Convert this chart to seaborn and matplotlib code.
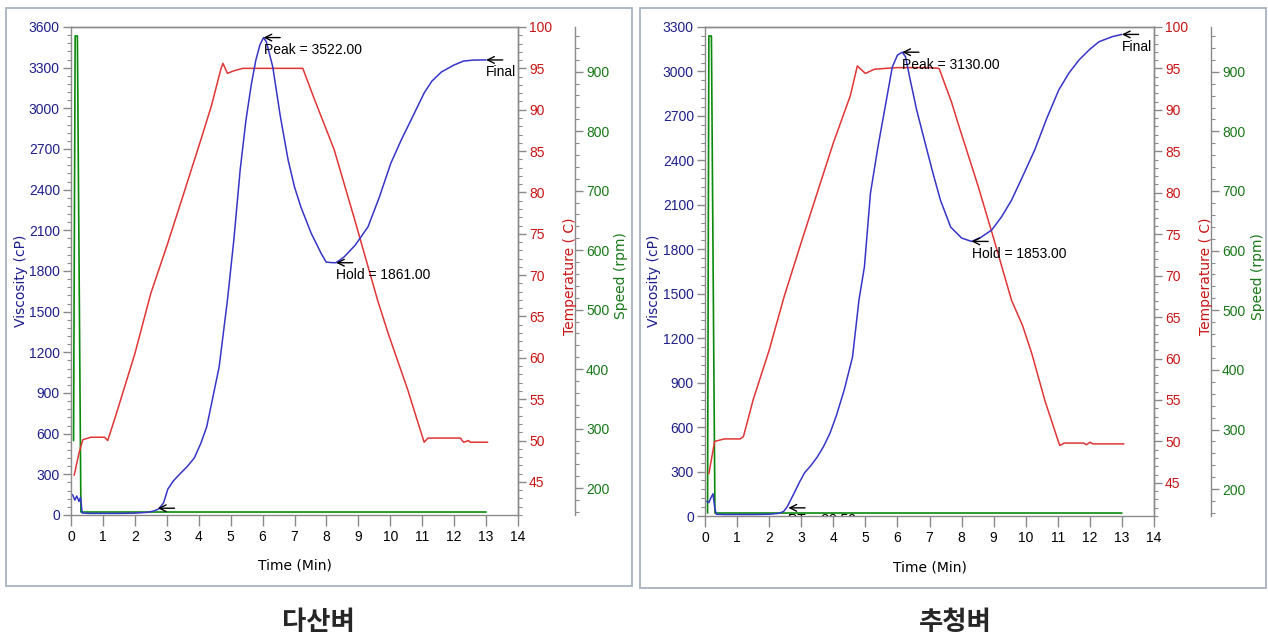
import matplotlib
matplotlib.use('Agg')
import matplotlib.pyplot as plt
import matplotlib.patches as patches
from matplotlib.ticker import MultipleLocator
import seaborn as sns

# 다산벼 (left panel)
visc_t_a = [0.05, 0.12, 0.18, 0.25, 0.30, 0.35, 0.6, 1.0, 1.5, 2.0, 2.4, 2.6, 2.75, 2.9,
            3.03, 3.2, 3.44, 3.65, 3.86, 4.07, 4.25, 4.38, 4.64, 4.9, 5.1, 5.3, 5.48, 5.65,
            5.79, 5.92, 6.03, 6.12, 6.32, 6.55, 6.8, 7.0, 7.2, 7.52, 7.83, 7.99, 8.15, 8.3,
            8.55, 8.9, 9.3, 9.65, 10.02, 10.35, 10.65, 11.06, 11.3, 11.6, 12.0, 12.3, 12.6, 13.0]
visc_a = [150, 110, 140, 100, 130, 15, 12, 12, 12, 14, 20, 30, 45, 90,
          190, 250, 310, 360, 420, 531, 650, 797, 1093, 1586, 2029, 2550, 2914, 3180,
          3357, 3470, 3522, 3490, 3305, 2950, 2619, 2420, 2272, 2080, 1932, 1866, 1862, 1861,
          1903, 1990, 2125, 2340, 2597, 2770, 2914, 3113, 3200, 3268, 3320, 3349, 3356, 3357]
temp_t_a = [0.1, 0.25, 0.37, 0.62, 1.05, 1.15, 1.4, 2.0, 2.5, 3.0, 3.5, 4.07, 4.4, 4.7,
            4.76, 4.9, 5.1, 5.38, 6.0, 7.0, 7.26, 7.6, 8.24, 8.9, 9.6, 9.93, 10.55, 10.8,
            11.06, 11.18, 12.2, 12.25, 12.3, 12.45, 12.5, 12.6, 13.05]
temp_a = [45.8, 48.5, 50.1, 50.4, 50.4, 50.0, 53.0, 60.5, 67.8, 73.5, 79.5, 86.4, 90.5, 95.0,
          95.6, 94.4, 94.7, 95.0, 95.0, 95.0, 95.0, 91.5, 85.2, 76.5, 67.0, 63.0, 56.1, 53.0,
          49.8, 50.3, 50.3, 50.0, 49.8, 50.0, 49.8, 49.8, 49.8]
speed_t_a = [0.08, 0.13, 0.20, 0.31, 13.0]
speed_a = [280, 960, 960, 160, 160]
marks_a = {'Peak = 3522.00': (6.03, 3522), 'Hold = 1861.00': (8.3, 1861),
           'Final': (13.0, 3357), 'PT = 86.40': (2.72, 50)}

# 추청벼 (right panel)
visc_t_b = [0.05, 0.12, 0.2, 0.25, 0.30, 0.35, 0.6, 1.0, 1.5, 2.0, 2.3, 2.45, 2.56, 2.78,
            2.95, 3.1, 3.3, 3.5, 3.7, 3.9, 4.1, 4.34, 4.6, 4.8, 4.97, 5.16, 5.4, 5.6, 5.84,
            6.0, 6.15, 6.25, 6.4, 6.6, 6.84, 7.1, 7.34, 7.66, 8.0, 8.31, 8.6, 8.94, 9.25,
            9.56, 9.9, 10.28, 10.65, 11.03, 11.35, 11.66, 12.0, 12.28, 12.7, 13.0]
visc_b = [100, 90, 130, 150, 60, 12, 10, 10, 10, 12, 18, 30, 61, 155,
          230, 290, 340, 398, 470, 560, 680, 850, 1073, 1457, 1680, 2180, 2500, 2740, 3030,
          3110, 3130, 3100, 2942, 2740, 2537, 2320, 2132, 1950, 1876, 1853, 1880, 1930, 2020,
          2132, 2290, 2470, 2680, 2875, 2990, 3077, 3150, 3200, 3235, 3250]
temp_t_b = [0.12, 0.3, 0.6, 1.1, 1.2, 1.5, 2.0, 2.47, 3.0, 3.5, 4.0, 4.53, 4.75, 5.0, 5.28,
            5.6, 6.0, 7.0, 7.3, 7.69, 7.88, 8.5, 9.0, 9.56, 9.9, 10.19, 10.6, 11.06, 11.2,
            11.8, 11.9, 12.0, 12.1, 12.3, 13.06]
temp_b = [46.1, 50.0, 50.3, 50.3, 50.6, 55.0, 61.0, 67.5, 74.0, 80.0, 86.0, 91.7, 95.3, 94.4, 94.9,
          95.0, 95.1, 95.1, 95.0, 90.9, 88.5, 81.0, 74.5, 67.0, 64.0, 60.6, 54.9, 49.5, 49.8,
          49.8, 49.6, 49.9, 49.7, 49.7, 49.7]
speed_t_b = [0.08, 0.12, 0.20, 0.31, 13.0]
speed_b = [160, 960, 960, 160, 160]
marks_b = {'Peak = 3130.00': (6.15, 3130), 'Hold = 1853.00': (8.31, 1853),
           'Final': (13.0, 3250), 'PT = 88.50': (2.6, 55)}

sns.set_theme(style='white')
plt.rcParams['font.family'] = ['Liberation Sans', 'DejaVu Sans']

BLUE = '#3535c8'
RED = '#e03535'
GREEN = '#0a8a0a'
GRAY = '#8a8a8a'
FS = 10


def style_axis(a, color, side):
    a.tick_params(axis='y', which='both', direction='out', colors=GRAY,
                  labelcolor=color, labelsize=FS, pad=2)
    a.tick_params(axis='y', which='major', length=6, width=1)
    a.tick_params(axis='y', which='minor', length=3, width=0.8)
    if side == 'left':
        a.yaxis.tick_left()
    else:
        a.yaxis.tick_right()


def draw_panel(rect, vt, v, tt, temp, st, s, marks, vmax, title, title_x):
    ax = fig.add_axes(rect)
    ax_t = ax.twinx()
    ax_s = ax.twinx()
    ax_s.spines['right'].set_position(('outward', 41))
    ax.set_zorder(3)
    ax_t.set_zorder(2)
    ax_s.set_zorder(1)
    ax.patch.set_visible(False)

    sns.lineplot(x=st, y=s, ax=ax_s, color=GREEN, lw=1.2, estimator=None, sort=False)
    sns.lineplot(x=tt, y=temp, ax=ax_t, color=RED, lw=1.1, estimator=None, sort=False)
    sns.lineplot(x=vt, y=v, ax=ax, color=BLUE, lw=1.1, estimator=None, sort=False)

    ax.set_xlim(0, 14)
    ax.set_ylim(0, vmax)
    ax_t.set_ylim(41, 100)
    ax_s.set_ylim(155, 975)

    ax.xaxis.set_major_locator(MultipleLocator(1))
    ax.yaxis.set_major_locator(MultipleLocator(300))
    ax.yaxis.set_minor_locator(MultipleLocator(60))
    ax_t.set_yticks(range(45, 101, 5))
    ax_t.yaxis.set_minor_locator(MultipleLocator(1))
    ax_s.set_yticks(range(200, 901, 100))
    ax_s.yaxis.set_minor_locator(MultipleLocator(20))

    ax.tick_params(axis='x', direction='out', length=8, width=1, colors=GRAY,
                   labelcolor='black', labelsize=FS, bottom=True, pad=3)
    style_axis(ax, '#1e1e8c', 'left')
    style_axis(ax_t, '#c81414', 'right')
    style_axis(ax_s, '#187818', 'right')

    for a in (ax, ax_t, ax_s):
        for sp in a.spines.values():
            sp.set_color(GRAY)
            sp.set_linewidth(1)
    for name in ('top', 'left', 'bottom'):
        ax_s.spines[name].set_visible(False)
    ax_t.spines['left'].set_visible(False)
    ax_t.spines['bottom'].set_visible(False)

    lab_font = ['DejaVu Sans']
    ax.set_xlabel('Time (Min)', fontsize=10, color='black', family=lab_font)
    ax.xaxis.set_label_coords(0.5, -0.09)
    ax.set_ylabel('Viscosity (cP)', fontsize=10, color='#1e1e8c', family=lab_font)
    ax.yaxis.set_label_coords(-0.097, 0.48)
    ax_t.set_ylabel('Temperature ( C)', fontsize=10, color='#c81414', family=lab_font)
    ax_t.yaxis.set_label_coords(1.1, 0.49)
    ax_s.set_ylabel('Speed (rpm)', fontsize=10, color='#187818', family=lab_font)
    ax_s.yaxis.set_label_coords(1.215, 0.49)

    for label, (mx, my) in marks.items():
        ax.annotate('', xy=(mx, my), xytext=(12, 0), textcoords='offset points',
                    arrowprops=dict(arrowstyle='->', color='black', lw=1,
                                    shrinkA=0, shrinkB=0))
        ax.annotate(label, xy=(mx, my), xytext=(0, -4), textcoords='offset points',
                    ha='left', va='top', fontsize=FS, color='black',
                    annotation_clip=False, clip_on=True)

    fig.text(title_x, 1 - 622 / 639, title, ha='center', va='center', fontsize=19,
             fontweight='bold', family=['Noto Sans CJK KR', 'DejaVu Sans'])


fig = plt.figure(figsize=(12.68, 6.39), dpi=100)
W, H = 1268, 639

fig.patches.append(patches.Rectangle((6 / W, 1 - 586 / H), 626 / W, 578 / H, fill=False,
                                     edgecolor='#a7b3c0', lw=1.3, transform=fig.transFigure))
fig.patches.append(patches.Rectangle((640 / W, 1 - 588 / H), 626 / W, 580 / H, fill=False,
                                     edgecolor='#a7b3c0', lw=1.3, transform=fig.transFigure))

draw_panel([71 / W, 1 - 515 / H, 447 / W, 488 / H], visc_t_a, visc_a, temp_t_a, temp_a,
           speed_t_a, speed_a, marks_a, 3600, '다산벼', 318 / W)
draw_panel([705 / W, 1 - 516 / H, 449 / W, 489 / H], visc_t_b, visc_b, temp_t_b, temp_b,
           speed_t_b, speed_b, marks_b, 3300, '추청벼', 955 / W)

fig.savefig('out.png', dpi=100, facecolor='white')
